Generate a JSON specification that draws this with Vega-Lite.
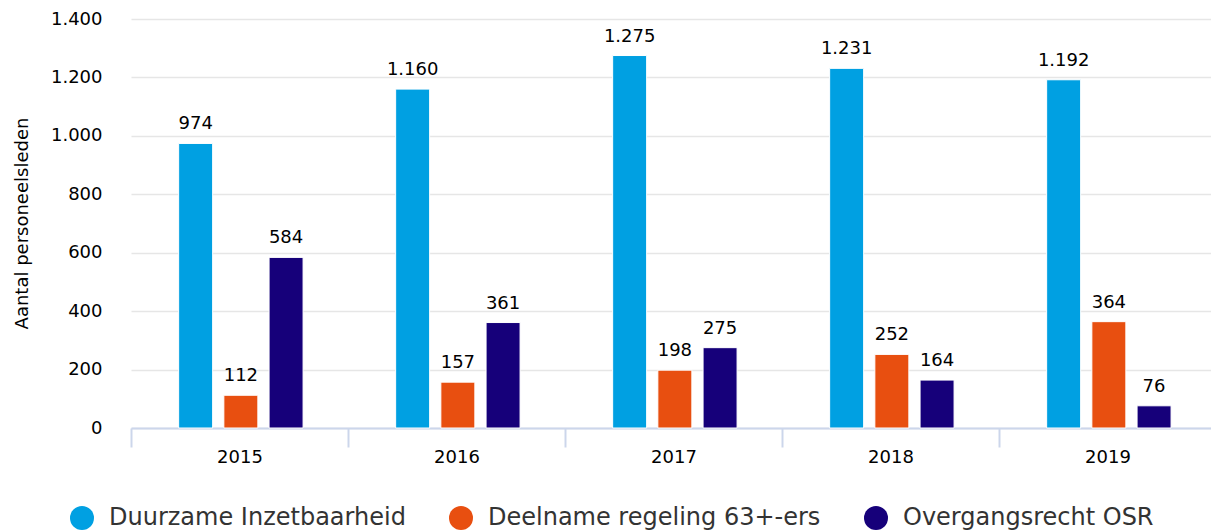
{
  "$schema": "https://vega.github.io/schema/vega-lite/v6.json",
  "autosize": {"type": "none"},
  "padding": {"left": 131, "top": 19, "right": 0, "bottom": 103},
  "width": 1080,
  "height": 409,
  "background": "#ffffff",
  "config": {
    "locale": {"number": {"decimal": ",", "thousands": ".", "grouping": [3], "currency": ["€", ""]}},
    "font": "DejaVu Sans",
    "view": {"stroke": null}
  },
  "data": {
    "values": [
      {"jaar": "2015", "reeks": "Duurzame Inzetbaarheid", "aantal": 974},
      {"jaar": "2015", "reeks": "Deelname regeling 63+-ers", "aantal": 112},
      {"jaar": "2015", "reeks": "Overgangsrecht OSR", "aantal": 584},
      {"jaar": "2016", "reeks": "Duurzame Inzetbaarheid", "aantal": 1160},
      {"jaar": "2016", "reeks": "Deelname regeling 63+-ers", "aantal": 157},
      {"jaar": "2016", "reeks": "Overgangsrecht OSR", "aantal": 361},
      {"jaar": "2017", "reeks": "Duurzame Inzetbaarheid", "aantal": 1275},
      {"jaar": "2017", "reeks": "Deelname regeling 63+-ers", "aantal": 198},
      {"jaar": "2017", "reeks": "Overgangsrecht OSR", "aantal": 275},
      {"jaar": "2018", "reeks": "Duurzame Inzetbaarheid", "aantal": 1231},
      {"jaar": "2018", "reeks": "Deelname regeling 63+-ers", "aantal": 252},
      {"jaar": "2018", "reeks": "Overgangsrecht OSR", "aantal": 164},
      {"jaar": "2019", "reeks": "Duurzame Inzetbaarheid", "aantal": 1192},
      {"jaar": "2019", "reeks": "Deelname regeling 63+-ers", "aantal": 364},
      {"jaar": "2019", "reeks": "Overgangsrecht OSR", "aantal": 76}
    ]
  },
  "encoding": {
    "x": {
      "field": "jaar", "type": "nominal", "title": null,
      "scale": {"paddingInner": 0, "paddingOuter": 0, "range": [0, 1085]},
      "axis": {
        "labelAngle": 0, "labelFontSize": 18, "labelColor": "#000000", "labelPadding": 1,
        "tickBand": "extent", "tickSize": 19, "tickWidth": 2, "tickColor": "#ccd6eb",
        "domainColor": "#ccd6eb", "domainWidth": 2, "grid": false
      }
    },
    "xOffset": {
      "field": "reeks", "type": "nominal",
      "sort": ["Duurzame Inzetbaarheid", "Deelname regeling 63+-ers", "Overgangsrecht OSR"],
      "scale": {"paddingInner": 0.2, "paddingOuter": 1.0828, "align": 0.515}
    },
    "y": {
      "field": "aantal", "type": "quantitative",
      "title": "Aantal personeelsleden",
      "scale": {"domain": [0, 1400], "nice": false},
      "axis": {
        "values": [0, 200, 400, 600, 800, 1000, 1200, 1400],
        "format": ",d", "labelFontSize": 18, "labelColor": "#000000",
        "ticks": false, "domain": false, "labelPadding": 29,
        "gridColor": "#e6e6e6", "gridWidth": 1.5,
        "titleFontSize": 18, "titleFontWeight": "normal", "titleColor": "#000000",
        "titleX": -100, "titleY": 204, "titleAngle": -90, "titleBaseline": "bottom", "titleAlign": "center"
      }
    }
  },
  "layer": [
    {
      "mark": {"type": "bar", "size": 34, "stroke": "#ffffff", "strokeWidth": 1},
      "encoding": {
        "color": {
          "field": "reeks", "type": "nominal", "title": null,
          "sort": ["Duurzame Inzetbaarheid", "Deelname regeling 63+-ers", "Overgangsrecht OSR"],
          "scale": {
            "domain": ["Duurzame Inzetbaarheid", "Deelname regeling 63+-ers", "Overgangsrecht OSR"],
            "range": ["#00a0e2", "#e84f10", "#16007a"]
          },
          "legend": {
            "orient": "none", "direction": "horizontal", "legendX": -61, "legendY": 487,
            "symbolType": "circle", "symbolSize": 576, "symbolStrokeWidth": 0,
            "labelFontSize": 24, "labelColor": "#333333", "labelOffset": 15,
            "columnPadding": 43, "padding": 0, "labelLimit": 0
          }
        }
      }
    },
    {
      "mark": {"type": "text", "baseline": "alphabetic", "dy": -14, "fontSize": 18, "color": "#000000"},
      "encoding": {
        "text": {"field": "aantal", "type": "quantitative", "format": ",d"}
      }
    }
  ]
}
